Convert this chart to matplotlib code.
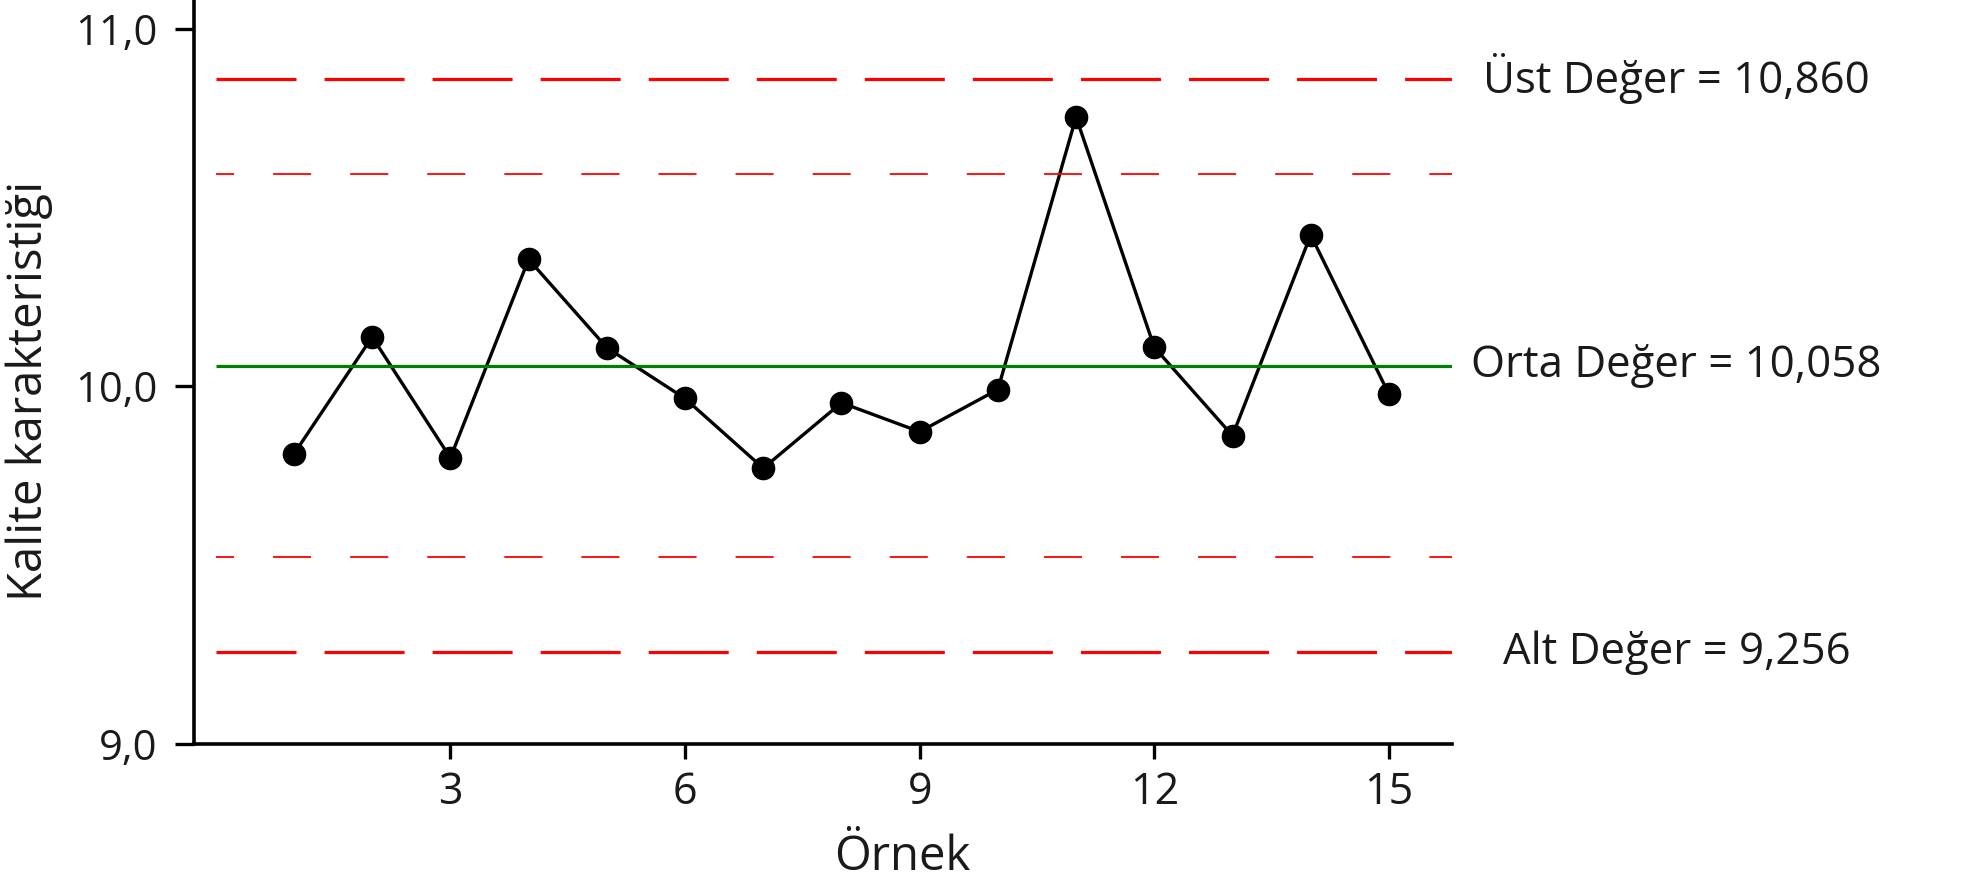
import matplotlib
matplotlib.use("Agg")
import matplotlib.pyplot as plt
from matplotlib import transforms

# data
samples = list(range(1, 16))
values = [9.811, 10.138, 9.800, 10.355, 10.108, 9.966, 9.771, 9.954,
          9.873, 9.991, 10.753, 10.109, 9.862, 10.423, 9.978]
ucl = 10.860
center = 10.058
lcl = 9.256
upper_warn = 10.593
lower_warn = 9.523
labels = ["Üst Değer = 10,860", "Orta Değer = 10,058", "Alt Değer = 9,256"]
xticks = [3, 6, 9, 12, 15]
yticks = [9.0, 10.0, 11.0]
ytick_labels = ["9,0", "10,0", "11,0"]

plt.rcParams['font.family'] = ['Open Sans', 'DejaVu Sans']
plt.rcParams['lines.scale_dashes'] = False
txt_color = '#1a1a1a'

fig = plt.figure(figsize=(19.7, 8.81), dpi=100)
ax = fig.add_axes([0.0986, 0.1555, 0.6386, 0.8445])

xmin, xmax = -0.275, 15.81
ax.set_xlim(xmin, xmax)
ax.set_ylim(9.0, 11.08)

# control limits
ax.hlines([ucl, lcl], 0, xmax, colors='red', lw=2.3,
          linestyles=[(0, (57.6, 20.2))], zorder=3)
ax.hlines([upper_warn, lower_warn], 0, xmax, colors='red', lw=1.3,
          linestyles=[(14.4, (27.4, 28.1))], zorder=3)
ax.hlines(center, 0, xmax, colors='green', lw=2.3, zorder=3)

# sample line
ax.plot(samples, values, color='black', lw=2.4, marker='o',
        markersize=16, zorder=2)

# spines and ticks
for s in ['top', 'right']:
    ax.spines[s].set_visible(False)
for s in ['left', 'bottom']:
    ax.spines[s].set_linewidth(2.6)
ax.set_xticks(xticks)
ax.set_xticklabels([str(t) for t in xticks])
ax.set_yticks(yticks)
ax.set_yticklabels(ytick_labels)
ax.tick_params(axis='y', length=13.7, width=2.4, pad=13, labelsize=30,
               labelcolor=txt_color)
ax.tick_params(axis='x', length=10.8, width=2.4, pad=8, labelsize=31,
               labelcolor=txt_color)

# axis titles
fig.text(0.0147, 0.556, "Kalite karakteristiği", rotation=90,
         ha='center', va='center', fontsize=34, color=txt_color)
fig.text(0.458, 0.013, "Örnek", ha='center', va='baseline',
         fontsize=34, color=txt_color)

# limit labels on the right
trans = transforms.blended_transform_factory(fig.transFigure, ax.transData)
for lab, yv in zip(labels, [ucl, center, lcl]):
    ax.text(0.851, yv, lab, transform=trans, ha='center', va='center',
            fontsize=31.5, color=txt_color, clip_on=False)

fig.savefig("out.png", dpi=100, facecolor='white')
